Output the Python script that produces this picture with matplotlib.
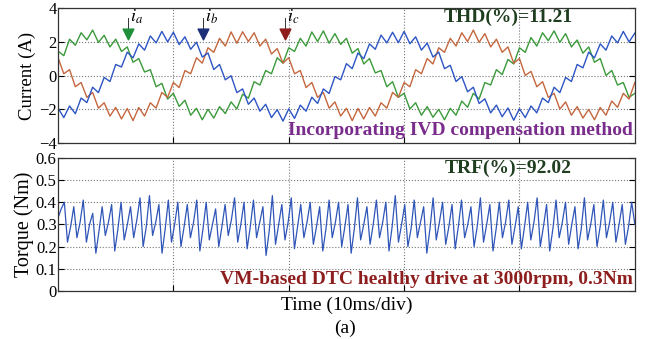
import numpy as np
import matplotlib
matplotlib.use("Agg")
import matplotlib.pyplot as plt

plt.rcParams['font.family'] = ['Liberation Serif', 'DejaVu Serif']
plt.rcParams['mathtext.fontset'] = 'stix'

# phase currents, one sample per 0.5 ms (0..50 ms)
ia = [1.45, 1.18, 2.16, 1.80, 2.54, 2.12, 2.70, 1.97, 2.39, 1.70,
      2.16, 1.43, 1.70, 0.79, 1.01, 0.21, 0.35, -0.66, -0.46, -1.39,
      -1.05, -1.83, -1.46, -2.35, -1.94, -2.62, -2.00, -2.52, -1.84, -2.25,
      -1.56, -1.98, -1.10, -1.34, -0.36, -0.56, 0.30, 0.11, 1.06, 0.74,
      1.65, 1.43, 2.21, 1.75, 2.59, 2.02, 2.65, 1.92, 2.49, 1.85,
      2.21, 1.33, 1.60, 0.69, 1.01, 0.16, 0.30, -0.66, -0.36, -1.29,
      -1.05, -1.98, -1.61, -2.35, -1.84, -2.47, -2.00, -2.62, -1.94, -2.35,
      -1.51, -1.88, -1.05, -1.39, -0.41, -0.56, 0.35, 0.06, 0.96, 0.69,
      1.65, 1.38, 2.26, 1.75, 2.54, 2.07, 2.65, 1.97, 2.49, 1.70,
      2.11, 1.33, 1.70, 0.79, 1.01, 0.01, 0.30, -0.56, -0.41, -1.29,
      -1.05]
ib = [-1.92, -2.49, -1.80, -2.26, -1.33, -1.60, -0.69, -1.01, -0.11, -0.35,
      0.66, 0.51, 1.39, 1.05, 1.88, 1.51, 2.35, 1.94, 2.62, 2.00,
      2.57, 1.84, 2.30, 1.56, 1.98, 1.10, 1.34, 0.36, 0.66, -0.25,
      -0.01, -1.01, -0.79, -1.70, -1.33, -2.11, -1.70, -2.49, -2.02, -2.70,
      -1.97, -2.54, -1.75, -2.11, -1.28, -1.65, -0.79, -1.06, -0.06, -0.25,
      0.71, 0.41, 1.34, 1.00, 1.88, 1.56, 2.40, 1.94, 2.57, 1.95,
      2.62, 1.89, 2.30, 1.51, 1.93, 1.10, 1.39, 0.41, 0.61, -0.35,
      -0.06, -0.96, -0.69, -1.65, -1.38, -2.21, -1.75, -2.44, -1.92, -2.65,
      -1.97, -2.49, -1.80, -2.21, -1.33, -1.60, -0.69, -1.01, -0.11, -0.35,
      0.66, 0.46, 1.39, 1.05, 1.88, 1.51, 2.35, 1.94, 2.62, 2.00,
      2.52]
ic = [1.06, 0.11, 0.35, -0.66, -0.41, -1.29, -1.00, -1.93, -1.61, -2.40,
      -1.89, -2.57, -1.95, -2.67, -1.89, -2.40, -1.61, -1.93, -1.00, -1.29,
      -0.41, -0.71, 0.30, 0.11, 1.06, 0.74, 1.65, 1.38, 2.21, 1.75,
      2.59, 1.92, 2.60, 2.02, 2.54, 1.75, 2.16, 1.28, 1.60, 0.74,
      1.06, 0.11, 0.30, -0.71, -0.41, -1.29, -1.00, -1.93, -1.56, -2.40,
      -1.94, -2.67, -1.95, -2.57, -1.89, -2.40, -1.61, -1.93, -1.00, -1.29,
      -0.41, -0.66, 0.35, 0.11, 1.01, 0.69, 1.65, 1.38, 2.21, 1.75,
      2.54, 2.02, 2.70, 1.97, 2.49, 1.70, 2.16, 1.38, 1.70, 0.74,
      1.01, 0.01, 0.25, -0.66, -0.36, -1.29, -1.05, -1.98, -1.56, -2.35,
      -1.84, -2.52, -2.00, -2.62, -1.89, -2.35, -1.51, -1.88, -1.05, -1.39,
      -0.41]

# electromagnetic torque, (trough, kink, peak) per switching cycle
torque = [0.33, 0.37, 0.40, 0.22, 0.29, 0.38, 0.24, 0.31, 0.41, 0.22, 0.30, 0.35,
          0.17, 0.27, 0.38, 0.25, 0.31, 0.39, 0.18, 0.28, 0.40, 0.23, 0.30, 0.38,
          0.24, 0.32, 0.42, 0.20, 0.29, 0.43, 0.25, 0.31, 0.39, 0.17, 0.28, 0.41,
          0.22, 0.30, 0.40, 0.20, 0.29, 0.39, 0.24, 0.31, 0.41, 0.18, 0.28, 0.40,
          0.23, 0.30, 0.37, 0.20, 0.29, 0.39, 0.25, 0.32, 0.42, 0.22, 0.30, 0.40,
          0.19, 0.29, 0.41, 0.24, 0.31, 0.38, 0.16, 0.27, 0.43, 0.21, 0.30, 0.39,
          0.23, 0.31, 0.42, 0.19, 0.29, 0.39, 0.24, 0.31, 0.40, 0.21, 0.29, 0.38,
          0.18, 0.28, 0.41, 0.24, 0.31, 0.40, 0.20, 0.29, 0.39, 0.17, 0.28, 0.42,
          0.23, 0.30, 0.38, 0.21, 0.30, 0.41, 0.24, 0.31, 0.40, 0.18, 0.29, 0.43,
          0.22, 0.30, 0.39, 0.20, 0.28, 0.41, 0.24, 0.31, 0.38, 0.17, 0.28, 0.42,
          0.23, 0.31, 0.40, 0.21, 0.29, 0.39, 0.19, 0.29, 0.41, 0.24, 0.30, 0.38,
          0.20, 0.29, 0.42, 0.22, 0.30, 0.39, 0.18, 0.28, 0.40, 0.24, 0.31, 0.41,
          0.21, 0.29, 0.38, 0.19, 0.29, 0.40, 0.23, 0.31, 0.42, 0.20, 0.29, 0.39,
          0.18, 0.28, 0.41, 0.24, 0.31, 0.40, 0.21, 0.30, 0.38, 0.19, 0.28, 0.42,
          0.23, 0.30, 0.39, 0.20, 0.29, 0.41, 0.24, 0.31, 0.40, 0.22, 0.30, 0.39,
          0.21, 0.29, 0.40, 0.30]

# arrow markers for the phase labels (time ms)
marker_t = [6.1, 12.6, 19.7]
marker_lbl = [r'$i_a$', r'$i_b$', r'$i_c$']

t_i = np.linspace(0, 50, len(ia))
t_q = np.linspace(0, 50, len(torque))

c_a, c_b, c_c = '#3a9a3a', '#2d55c4', '#c4673e'
c_q = '#2f55b8'

fig = plt.figure(figsize=(6.47, 3.39), dpi=100)
ax1 = fig.add_axes([0.0897, 0.578, 0.8915, 0.398])
ax2 = fig.add_axes([0.0897, 0.142, 0.8915, 0.392])

for ax in (ax1, ax2):
    ax.set_xlim(0, 50)
    ax.set_xticks([10, 20, 30, 40])
    ax.set_xticklabels([])
    ax.tick_params(direction='in', length=4, right=True, top=False,
                   labelsize=12, pad=1)
    ax.grid(True, linestyle=':', color='#777777', linewidth=0.8)
    for s in ax.spines.values():
        s.set_color('#333333')
        s.set_linewidth(0.9)

ax1.plot(t_i, ia, color=c_a, lw=1.0)
ax1.plot(t_i, ic, color=c_c, lw=1.0)
ax1.plot(t_i, ib, color=c_b, lw=1.0)
ax1.set_ylim(-4, 4)
ax1.set_yticks([-4, -2, 0, 2, 4])
ax1.set_ylabel('Current (A)', fontsize=13.5, labelpad=2)

arrow_cols = ['#1f8f3a', '#1c2f78', '#8e1c1c']
for tm, lb, col in zip(marker_t, marker_lbl, arrow_cols):
    ax1.plot([tm, tm], [2.5, 3.4], color='#333333', lw=0.7)
    ax1.scatter([tm], [2.45], marker='v', s=60, color=col, zorder=5)
    ax1.text(tm + 0.15, 3.5, lb, fontsize=13, ha='left', va='center')

ax1.text(39.0, 3.45, 'THD(%)=11.21', fontsize=14, fontweight='bold',
         color='#1f3d1f', ha='center', va='center')
ax1.text(49.8, -3.25, 'Incorporating IVD compensation method', fontsize=14,
         fontweight='bold', color='#7a2c8c', ha='right', va='center')

ax2.plot(t_q, torque, color=c_q, lw=0.9)
ax2.set_ylim(0, 0.6)
ax2.set_yticks([0, 0.1, 0.2, 0.3, 0.4, 0.5, 0.6])
ax2.set_yticklabels(['0', '0.1', '0.2', '0.3', '0.4', '0.5', '0.6'])
ax2.set_ylabel('Torque (Nm)', fontsize=14.5, labelpad=1)
ax2.set_xlabel('Time (10ms/div)', fontsize=14, labelpad=3)

ax2.text(39.0, 0.555, 'TRF(%)=92.02', fontsize=14, fontweight='bold',
         color='#1f3d1f', ha='center', va='center')
ax2.text(49.8, 0.05, 'VM-based DTC healthy drive at 3000rpm, 0.3Nm',
         fontsize=14, fontweight='bold', color='#8e1e1e', ha='right',
         va='center')

fig.text(0.534, 0.032, '(a)', fontsize=14, ha='center', va='center')

fig.savefig('out.png', dpi=100)
